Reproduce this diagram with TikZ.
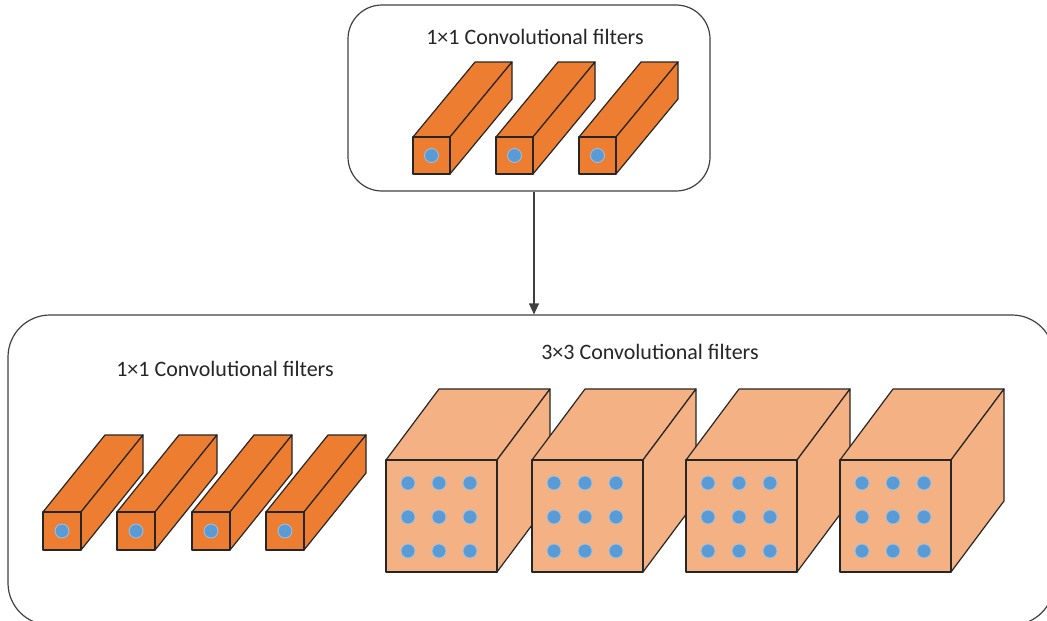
\documentclass[tikz,border=0pt]{standalone}
\usepackage{fontspec}
\setmainfont{Carlito}
\usetikzlibrary{arrows.meta}
\definecolor{barorange}{HTML}{ED7D31}
\definecolor{cubeorange}{HTML}{F4B183}
\definecolor{dotblue}{HTML}{5B9BD5}
\definecolor{dotrim}{HTML}{9DC3E6}
\definecolor{rim}{HTML}{262626}
\definecolor{framegray}{HTML}{404040}

% Prism: front-left x, front-top y, width, height, depth dx, depth dy, fill colour
\newcommand\drawprism[7]{%
  \filldraw[prismline, fill=#7]
    (#1,#2) -- ++(#3,0) -- ++(#5,#6) -- ++(-#3,0) -- cycle;
  \filldraw[prismline, fill=#7]
    (#1+#3,#2) -- ++(#5,#6) -- ++(0,#4) -- ++(-#5,-#6) -- cycle;
  \filldraw[prismline, fill=#7]
    (#1,#2) rectangle ++(#3,#4);
}
% One blue dot
\newcommand\drawdot[2]{%
  \filldraw[dotstyle] (#1,#2) circle[radius=7];
}
% A thin 1x1 filter bar with its dot
\newcommand\drawbar[4]{%
  \drawprism{#1}{#2}{#3}{#3}{62}{#4}{barorange}
  \drawdot{#1+#3/2}{#2+#3/2}
}
% A 3x3 filter cube with its nine dots
\newcommand\drawcube[2]{%
  \drawprism{#1}{#2}{111}{112}{53}{-71}{cubeorange}
  \foreach \cx in {22,53,84}{
    \foreach \cy in {23,57,91}{
      \drawdot{#1+\cx}{#2+\cy}
    }
  }
}

\begin{document}
\begin{tikzpicture}[x=1pt, y=-1pt,
  prismline/.style={draw=rim, line width=1.2pt, line join=round},
  dotstyle/.style={fill=dotblue, draw=dotrim, line width=0.8pt},
  panel/.style={draw=framegray, line width=1.2pt, rounded corners=34pt, fill=white},
  caption/.style={font=\fontsize{22}{26}\selectfont, text=rim},
  flow/.style={draw=framegray, line width=1.2pt, -{Triangle[width=10pt,length=11pt]}}]
\useasboundingbox (0,0) rectangle (1047,621);

% panels
\node[panel, minimum width=362pt, minimum height=186pt, inner sep=0pt] (top) at (529,98) {};
\node[panel, rounded corners=42pt, minimum width=1046pt, minimum height=310pt, inner sep=0pt] (bottom) at (531,470) {};

% connector between the panels
\coordinate (a) at (534,0);
\draw[flow] (top.south -| a) -- (bottom.north -| a);

% captions
\node[caption] (t1) at (535,37) {1×1 Convolutional filters};
\node[caption] (b1) at (225,369) {1×1 Convolutional filters};
\node[caption] (b3) at (650,352) {3×3 Convolutional filters};

% 1x1 filters in the upper panel
\drawbar{413}{137}{37}{-75}
\drawbar{496}{137}{37}{-75}
\drawbar{579}{137}{37}{-75}

% 1x1 filters in the lower panel
\drawbar{43}{512}{38}{-77}
\drawbar{117}{512}{38}{-77}
\drawbar{192}{512}{38}{-77}
\drawbar{266}{512}{38}{-77}

% 3x3 filters
\drawcube{386}{460}
\drawcube{532}{460}
\drawcube{686}{460}
\drawcube{840}{460}
\end{tikzpicture}
\end{document}
